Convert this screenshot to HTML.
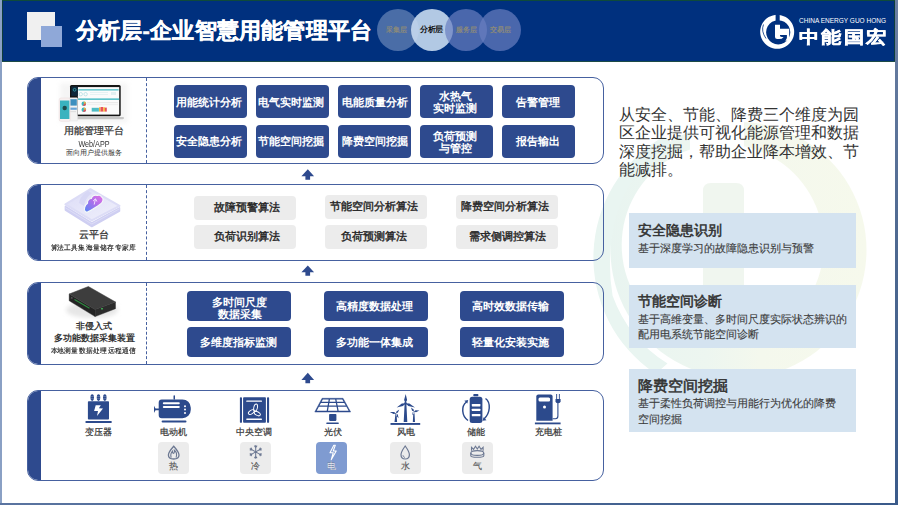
<!DOCTYPE html>
<html><head><meta charset="utf-8">
<style>
*{margin:0;padding:0;box-sizing:border-box}
html,body{width:898px;height:505px;overflow:hidden;background:#fff;font-family:"Liberation Sans",sans-serif}
#pg{position:absolute;left:0;top:0;width:898px;height:505px;background:#fff;overflow:hidden}
.abs{position:absolute}
#lstrip{left:0;top:0;width:2px;height:505px;background:#8aa0c4}
#rstrip{left:895px;top:0;width:3px;height:505px;background:linear-gradient(#6b7fa3,#4d6890 50%,#3a5a8a)}
#bstrip{left:0;top:503px;width:898px;height:2px;background:linear-gradient(90deg,#5a74a0,#3a5a8a)}
#tline{left:0;top:0;width:898px;height:1px;background:#0f4a3a}
#hdr{left:2px;top:1px;width:893px;height:60px;background:#00307e;border-left:1px solid #0d3d3a;border-right:1px solid #0d3d3a}
#hline{left:2px;top:61px;width:893px;height:1px;background:#1c4a46}
.sq1{left:27px;top:12px;width:28px;height:28px;background:#f0f0f0}
.sq2{left:41px;top:26px;width:21px;height:21px;background:#8fa8d8}
#title{left:76px;top:15.7px;font-size:22px;letter-spacing:0.2px;font-weight:bold;color:#fff;-webkit-text-stroke:0.4px #fff;white-space:nowrap;line-height:30px}
.circ{position:absolute;top:9px;width:42px;height:42px;border-radius:50%;color:#8c8a7a;font-size:6.7px;font-weight:bold;text-align:center;line-height:42px}
.c1{background:rgba(200,215,240,0.37)}
.c3,.c4{background:rgba(106,127,193,0.7)}
.circ.on{background:#b2c9e4;color:#111;font-size:8px;letter-spacing:-0.4px}
.cont{position:absolute;left:27px;width:577px;border:1.5px solid #4661a0;border-radius:11px;overflow:hidden}
.cont .bar{position:absolute;left:0;top:0;bottom:0;width:13px;background:#2e4a8e}
.cont .dash{position:absolute;left:117.5px;top:0;bottom:0;border-left:1.5px dashed #4661a0}
.bb{position:absolute;background:#2e4a8e;color:#fff;border-radius:4px;font-weight:bold;text-align:center;display:flex;align-items:center;justify-content:center;line-height:12.5px;font-size:11px;padding:1px 2px 0 0}
.gb{position:absolute;background:#ececec;color:#262626;border-radius:4px;font-weight:normal;-webkit-text-stroke:0.4px #262626;padding-right:3.5px;text-align:center;display:flex;align-items:center;justify-content:center;font-size:10.8px;width:102px;height:24px}
.r1{width:73px;height:33px}
.r3{width:104px;height:30px}
.lbl{position:absolute;color:#333;text-align:center;white-space:nowrap}
.ic{position:absolute;color:#333;font-size:9px;text-align:center;width:40px;line-height:10px;-webkit-text-stroke:0.2px #333}
.tile{position:absolute;top:442px;width:31px;height:31.5px;border-radius:4px;background:#ececec;color:#5a5a5a;font-size:9px;text-align:center;-webkit-text-stroke:0.15px #5a5a5a}
.tile span{position:absolute;left:0;right:0;top:19px;line-height:10px}
.card{position:absolute;left:629px;width:227px;background:#d4e3f0}
.card h4{position:absolute;left:9px;font-size:14px;font-weight:normal;-webkit-text-stroke:0.55px #333;color:#333;white-space:nowrap;line-height:16px}
.card p{position:absolute;left:9px;font-size:11px;color:#3c3c3c;-webkit-text-stroke:0.12px #3c3c3c;line-height:15.5px;white-space:nowrap}
</style></head><body><div id="pg">
<!-- watermark -->
<svg class="abs" style="left:0;top:0" width="898" height="505" viewBox="0 0 898 505">
  <defs>
    <linearGradient id="wm" gradientUnits="userSpaceOnUse" x1="600" y1="0" x2="867" y2="0">
      <stop offset="0" stop-color="#e8f4f0"/><stop offset="0.4" stop-color="#edf6f0"/><stop offset="0.6" stop-color="#f4f8ed"/><stop offset="1" stop-color="#f6f9ec"/>
    </linearGradient>
  </defs>
  <path fill-rule="evenodd" d="M738.5 122 A128 128 0 1 1 738.49 122 Z M722.7 144 A101 101 0 1 0 722.71 144 Z" fill="url(#wm)"/>
  <path d="M690 110 L744 110 L744 152 L690 152 Z" fill="#fff"/>
  <path d="M663.2 136.7 A139.6 139.6 0 0 0 654.9 373.3 Q662 369 667.5 363.6 A134 134 0 0 1 612.6 295.8 Q606 256 615.8 217.1 A127 127 0 0 1 671.2 142.3 Q667 138 663.2 136.7 Z" fill="#e9f5f1"/>
  <path d="M703 303 V191 Q703 183 711 183 H736 Q744 183 744 191 V303 Z" fill="#f0f6ef"/>
</svg>

<div class="abs" id="hdr"></div>
<div class="abs" id="tline"></div>
<div class="abs" id="hline"></div>
<div class="abs sq1"></div><div class="abs sq2"></div>
<div class="abs" id="title">分析层-企业智慧用能管理平台</div>
<div class="circ on" style="left:410.5px">分析层</div>
<div class="circ c1" style="left:377px;padding-right:3px">采集层</div>
<div class="circ c3" style="left:445px">服务层</div>
<div class="circ c4" style="left:479px">交易层</div>
<!-- logo -->
<svg class="abs" style="left:0;top:0" width="898" height="62" viewBox="0 0 898 62">
  <path fill-rule="evenodd" d="M777.2 14.8 A17 17 0 1 1 777.19 14.8 Z M778.2 20.2 A12.1 12.1 0 1 0 778.21 20.2 Z" fill="#fff"/><rect x="775.6" y="13" width="4.1" height="8" fill="#00307e"/><path d="M763.5 24.5 Q760.8 31 766 38.5" fill="none" stroke="#00307e" stroke-width="0.8"/>
  <path d="M775 24.7 H780 V28.8 H789.2 V42.2 L787.4 40.2 L785.2 41.6 L786.9 38 V35 H780 V36 Q780.5 36.9 782 36.9 H783.6 Q782.2 39.1 779 39.1 H777.2 Q775 39.1 775 37 Z" fill="#fff"/>
  <text x="799" y="23.3" font-size="7.3" fill="#fff" font-family="Liberation Sans, sans-serif" textLength="87" lengthAdjust="spacingAndGlyphs">CHINA ENERGY GUO HONG</text>
</svg>
<div class="abs" style="left:798.5px;top:25.5px;font-size:20px;font-weight:bold;color:#fff;letter-spacing:2.6px;line-height:22px;white-space:nowrap;-webkit-text-stroke:0.5px #fff;transform:scaleY(0.84);transform-origin:50% 50%">中能国宏</div>

<!-- container 1 -->
<div class="cont" style="top:76.5px;height:87px"><div class="bar"></div><div class="dash"></div></div>
<div class="bb r1" style="left:173.5px;top:85px">用能统计分析</div>
<div class="bb r1" style="left:255.5px;top:85px">电气实时监测</div>
<div class="bb r1" style="left:337.5px;top:85px;padding:1px 0 0 1px">电能质量分析</div>
<div class="bb r1" style="left:419.5px;top:85px">水热气<br>实时监测</div>
<div class="bb r1" style="left:501.5px;top:85px;padding:1px 0 0 0">告警管理</div>
<div class="bb r1" style="left:173.5px;top:125px;padding:0 2px 0 0">安全隐患分析</div>
<div class="bb r1" style="left:255.5px;top:125px;padding:0 2px 0 0">节能空间挖掘</div>
<div class="bb r1" style="left:337.5px;top:125px;padding:0 0 0 1px">降费空间挖掘</div>
<div class="bb r1" style="left:419.5px;top:125px">负荷预测<br>与管控</div>
<div class="bb r1" style="left:501.5px;top:125px;padding:0 0 0 0">报告输出</div>
<div class="lbl" style="left:42px;width:104px;top:124px;font-size:9.8px;font-weight:normal;-webkit-text-stroke:0.25px #333;line-height:13px">用能管理平台</div>
<div class="lbl" style="left:42px;width:104px;top:140.3px;font-size:9px;line-height:9px;letter-spacing:0;transform:scaleX(0.8)">Web/APP</div>
<div class="lbl" style="left:42px;width:104px;top:147.5px;font-size:7px;line-height:9px">面向用户提供服务</div>

<!-- container 2 -->
<div class="cont" style="top:183.5px;height:77px"><div class="bar"></div><div class="dash"></div></div>
<div class="gb" style="left:194px;top:195.5px;padding:0 0 0 3px">故障预警算法</div>
<div class="gb" style="left:325px;top:195px">节能空间分析算法</div>
<div class="gb" style="left:455.5px;top:195px">降费空间分析算法</div>
<div class="gb" style="left:194px;top:225px;padding:0 0 0 3px">负荷识别算法</div>
<div class="gb" style="left:325px;top:224.5px">负荷预测算法</div>
<div class="gb" style="left:455.5px;top:224.5px;padding:0 0 0 1px">需求侧调控算法</div>
<div class="lbl" style="left:42px;width:104px;top:227.5px;font-size:10px;font-weight:normal;-webkit-text-stroke:0.3px #333;line-height:13px">云平台</div>
<div class="lbl" style="left:40.7px;width:104px;top:242.5px;font-size:7px;line-height:9px;color:#222;-webkit-text-stroke:0.15px #222;transform:scaleX(0.965)">算法工具集 海量储存 专家库</div>

<!-- container 3 -->
<div class="cont" style="top:281.8px;height:83.5px"><div class="bar"></div><div class="dash"></div></div>
<div class="bb r3" style="left:187px;top:291px;padding:6px 0 0 1px;line-height:11.6px;font-size:10.6px;align-items:flex-start">多时间尺度<br>数据采集</div>
<div class="bb r3" style="left:323.5px;top:291px">高精度数据处理</div>
<div class="bb r3" style="left:459.5px;top:291px">高时效数据传输</div>
<div class="bb r3" style="left:187px;top:327px">多维度指标监测</div>
<div class="bb r3" style="left:323.5px;top:327px">多功能一体集成</div>
<div class="bb r3" style="left:459.5px;top:327px">轻量化安装实施</div>
<div class="lbl" style="left:42px;width:104px;top:320.3px;font-size:9px;font-weight:bold;line-height:12px">非侵入式</div>
<div class="lbl" style="left:42px;width:104px;top:331.5px;font-size:8.75px;font-weight:bold;line-height:12px">多功能数据采集装置</div>
<div class="lbl" style="left:40.7px;width:104px;top:345.5px;font-size:7px;line-height:9px;color:#222;-webkit-text-stroke:0.15px #222;transform:scaleX(0.965)">本地测量 数据处理 远程通信</div>

<!-- container 4 -->
<div class="cont" style="top:389.5px;height:91.5px"><div class="bar"></div></div>
<div class="ic" style="left:78.5px;top:426.5px">变压器</div>
<div class="ic" style="left:153px;top:426.5px">电动机</div>
<div class="ic" style="left:234px;top:426.5px">中央空调</div>
<div class="ic" style="left:313px;top:426.5px">光伏</div>
<div class="ic" style="left:385.5px;top:426.5px">风电</div>
<div class="ic" style="left:455.5px;top:426.5px">储能</div>
<div class="ic" style="left:528px;top:426.5px">充电桩</div>
<div class="tile" style="left:157.5px"><span>热</span></div>
<div class="tile" style="left:240px"><span>冷</span></div>
<div class="tile" style="left:316px;background:#7f9bd1;color:#fff"><span>电</span></div>
<div class="tile" style="left:389.5px"><span>水</span></div>
<div class="tile" style="left:462px"><span>气</span></div>

<!-- icons overlay -->
<svg class="abs" style="left:0;top:0" width="898" height="505" viewBox="0 0 898 505">
  <defs>
    <linearGradient id="cl" x1="1" y1="0" x2="0" y2="1">
      <stop offset="0" stop-color="#e272e6"/><stop offset="0.45" stop-color="#b070ea"/><stop offset="1" stop-color="#5386f4"/>
    </linearGradient>
    <linearGradient id="slab" x1="0" y1="0" x2="1" y2="1">
      <stop offset="0" stop-color="#dcdcf7"/><stop offset="1" stop-color="#f0f0fb"/>
    </linearGradient>
    <filter id="blur1" x="-50%" y="-50%" width="200%" height="200%"><feGaussianBlur stdDeviation="2"/></filter>
  </defs>
  <!-- arrows -->
  <path d="M307.8 169.2 L314.1 176.3 L310.1 176.3 L310.1 179.8 L305.4 179.8 L305.4 176.3 L301.4 176.3 Z" fill="#2e4a8e"/>
  <path d="M307.8 265.4 L314.1 272.3 L310.1 272.3 L310.1 275.8 L305.4 275.8 L305.4 272.3 L301.4 272.3 Z" fill="#2e4a8e"/>
  <path d="M307.8 372.8 L314.1 380.1 L310.1 380.1 L310.1 383.2 L305.4 383.2 L305.4 380.1 L301.4 380.1 Z" fill="#2e4a8e"/>

  <!-- laptop -->
  <rect x="60" y="83" width="68" height="40" fill="#eeeeee" filter="url(#blur1)" opacity="0.55"/>
  <rect x="70" y="85" width="50.7" height="31.3" rx="1.5" fill="#151515"/>
  <rect x="77.8" y="87.1" width="41.4" height="27.5" fill="#fbfbfb"/>
  <rect x="71.4" y="86.4" width="6.4" height="9.5" fill="#10283a"/>
  <circle cx="74.6" cy="89.8" r="1.4" fill="none" stroke="#3ab5c0" stroke-width="0.7"/>
  <rect x="78.4" y="89.2" width="40.2" height="1.3" fill="#4dbdc6"/>
  <circle cx="80.8" cy="94.2" r="1.7" fill="none" stroke="#9ed6dc" stroke-width="0.6"/>
  <circle cx="85.6" cy="94.2" r="1.7" fill="none" stroke="#9ed6dc" stroke-width="0.6"/>
  <rect x="90" y="92.5" width="18" height="0.5" fill="#cfe8ea"/><rect x="90" y="94.5" width="18" height="0.5" fill="#cfe8ea"/>
  <rect x="111" y="92" width="5" height="3" fill="#e2eff0"/>
  <rect x="78" y="98.4" width="41.2" height="1.5" fill="#4dbdc6"/>
  <rect x="87" y="102.5" width="31" height="0.6" fill="#dadada"/><rect x="87" y="104.5" width="31" height="0.6" fill="#e6e6e6"/>
  <circle cx="83.8" cy="103.7" r="2.3" fill="#3ab5c0"/><path d="M83.8 103.7 L83.8 101.4 A2.3 2.3 0 0 1 86.1 103.7 Z" fill="#f3b33d"/><path d="M83.8 103.7 L86.1 103.7 A2.3 2.3 0 0 1 83.2 105.9 Z" fill="#e8505b"/>
  <circle cx="83.8" cy="109.7" r="2.3" fill="#3ab5c0"/><path d="M83.8 109.7 L83.8 107.4 A2.3 2.3 0 0 1 86.1 109.7 Z" fill="#f3b33d"/><path d="M83.8 109.7 L86.1 109.7 A2.3 2.3 0 0 1 83.2 111.9 Z" fill="#e8505b"/>
  <rect x="91.7" y="107.8" width="7.2" height="3.8" fill="#4fbcc4"/>
  <rect x="99" y="107.3" width="1.6" height="4.3" fill="#f3b33d"/>
  <rect x="100.6" y="107" width="2.6" height="4.6" fill="#e8505b"/>
  <rect x="103.2" y="107.3" width="1.8" height="4.3" fill="#f3b33d"/>
  <rect x="105" y="107.6" width="1.8" height="4" fill="#e8505b"/>
  <rect x="76.3" y="116.9" width="47.7" height="2.3" rx="1.1" fill="#c6c6c6"/>
  <rect x="68.6" y="97.7" width="9" height="23.2" rx="1" fill="#f3f3f3" stroke="#dddddd" stroke-width="0.4"/>
  <rect x="69.4" y="99.2" width="7.4" height="6.4" fill="#3e8fbf"/>
  <rect x="69.4" y="107.6" width="7.4" height="2.2" fill="#6aa5d8"/>
  <rect x="70" y="111.5" width="6" height="0.6" fill="#cccccc"/>
  <rect x="59.2" y="98" width="11" height="23.3" rx="1.8" fill="#f7f1f1" stroke="#ead9d9" stroke-width="0.5"/>
  <rect x="60" y="100.5" width="9.4" height="18.5" fill="#39b3bf"/>
  <circle cx="64.7" cy="108" r="2.2" fill="#1f4c4c"/>

  <!-- cloud platform -->
  <path d="M65.4 206.5 L91.8 222.8 L119.5 207.8 L119.5 211 L91.8 226.6 L65.4 210 Z" fill="#cfcff2" stroke="#cfcff2" stroke-width="1.5" stroke-linejoin="round"/>
  <path d="M65.4 207.8 L91.8 224 L119.5 208.8" fill="none" stroke="#e2e2f8" stroke-width="0.7"/>
  <path d="M90.4 189.2 L119.5 205.8 L91.8 220.4 L65.4 204.4 Z" fill="url(#slab)" stroke="#dcdcf6" stroke-width="2" stroke-linejoin="round"/>
  <path d="M79 203 Q80 196 88 191 L92 193 Q85 198 84 206 Z" fill="#d3d3f3" opacity="0.7"/>
  <path d="M85.2 211.2 C83.5 209.5 84.8 205 87.5 203.2 C87.3 200.5 89 198.5 91.3 198.5 C92.2 195.8 95 194.5 97.3 195.5 C98.5 194.8 100.8 195.2 101.5 197 C103.3 197.5 103.6 200.5 102 202.5 C100 205 90 211 87.5 212 C86.5 212.3 85.6 211.8 85.2 211.2 Z" fill="url(#cl)" stroke="#f4fbf8" stroke-width="1.1"/>
  <path d="M94.2 204.5 L95.4 199.2 M93.1 201 L95.5 198.8 L96.9 201.5" stroke="#f6ecff" stroke-width="0.9" fill="none"/>

  <!-- device -->
  <ellipse cx="92" cy="310" rx="26" ry="8" fill="#e6e6e6" filter="url(#blur1)"/>
  <path d="M69.2 294 L95.1 309.5 L95.1 316.6 L69.2 300.8 Z" fill="#232323" stroke="#232323" stroke-width="0.4"/>
  <path d="M95.1 309.5 L115.5 302 L115.5 308.7 L95.1 316.6 Z" fill="#2c2c2c" stroke="#2c2c2c" stroke-width="0.4"/>
  <path d="M88.4 286.5 L115.5 302 L95.1 309.5 L69.2 294 Z" fill="#3d3d3d" stroke="#3a3a3a" stroke-width="0.5" stroke-linejoin="round"/>
  <path d="M74.5 299.5 L89.5 308.3" stroke="#2f8a40" stroke-width="1.1"/><path d="M71 297.5 L72.5 298.4" stroke="#555" stroke-width="1.5"/>
  <rect x="101" y="308" width="2" height="1.5" fill="#3fa050"/>

  <!-- transformer -->
  <g fill="#2c4a8c">
    <ellipse cx="92.2" cy="397.6" rx="1.75" ry="3.3"/>
    <ellipse cx="98.5" cy="397.6" rx="1.75" ry="3.3"/>
    <ellipse cx="104.8" cy="397.6" rx="1.75" ry="3.3"/>
    <rect x="87.9" y="401.2" width="21.1" height="18.4" rx="0.8"/>
    <rect x="85.3" y="420.9" width="26.6" height="2.2" rx="1"/>
  </g>
  <g stroke="#fff" stroke-width="0.35" opacity="0.6">
    <path d="M90.6 396.5 H93.8 M90.6 398.6 H93.8 M96.9 396.5 H100.1 M96.9 398.6 H100.1 M103.2 396.5 H106.4 M103.2 398.6 H106.4"/>
  </g>
  <path d="M95.7 405.3 L100.8 405.3 L98.9 408.2 L103 408.5 L97 416.1 L98 411 L94.1 411 Z" fill="#fff"/>

  <!-- motor -->
  <g fill="#2c4a8c">
    <path d="M161.7 399.4 H182.4 A8.4 8.4 0 0 1 190.8 407.8 V409.8 A8.4 8.4 0 0 1 182.4 418.2 H161.7 A3 3 0 0 1 158.7 415.2 V402.4 A3 3 0 0 1 161.7 399.4 Z"/>
    <rect x="173.5" y="395.3" width="1.5" height="4.5" rx="0.7"/>
    <path d="M154 405.8 Q155.3 408.5 155.6 408.6 H159 V410.2 H155.6 Q155.3 410.3 154 413 Z"/>
    <rect x="161.6" y="420.4" width="24.9" height="2.2" rx="1"/>
  </g>
  <rect x="162.8" y="402.2" width="17" height="2.1" rx="1.05" fill="#fff"/>
  <rect x="162.8" y="406" width="17" height="2.1" rx="1.05" fill="#fff"/>
  <circle cx="185" cy="406.2" r="1" fill="#fff"/><circle cx="185" cy="409.6" r="1" fill="#fff"/><circle cx="185" cy="413" r="1" fill="#fff"/>

  <!-- central AC -->
  <g fill="#2c4a8c">
    <rect x="239.9" y="397.2" width="2.1" height="25.6" rx="0.9"/>
    <rect x="267" y="397.2" width="2.1" height="25.6" rx="0.9"/>
    <rect x="243.1" y="397.2" width="22.8" height="25.6" rx="0.8"/>
  </g>
  <rect x="246.2" y="400.5" width="15.8" height="1.3" rx="0.6" fill="#fff"/>
  <rect x="246.2" y="418.6" width="15.8" height="1.3" rx="0.6" fill="#fff"/>
  <g fill="none" stroke="#fff" stroke-width="0.95">
    <ellipse cx="0" cy="0" rx="1.8" ry="3.7" transform="translate(255.6 407.6) rotate(12)"/>
    <ellipse cx="0" cy="0" rx="1.8" ry="3.3" transform="translate(251.3 412.1) rotate(58)"/>
    <ellipse cx="0" cy="0" rx="1.8" ry="3.3" transform="translate(257.3 413.6) rotate(-62)"/>
  </g>

  <!-- solar -->
  <path d="M322.1 398.3 L343 398.3 L350.6 412 L314.8 412 Z" fill="#2c4a8c" stroke="#2c4a8c" stroke-width="0.5" stroke-linejoin="round"/>
  <path d="M322.81 399.4 L328.66 399.4 L328.27 401.7 L321.59 401.7 Z M329.96 399.4 L335.16 399.4 L335.60 401.7 L329.57 401.7 Z M336.46 399.4 L342.31 399.4 L343.59 401.7 L336.90 401.7 Z M320.95 402.9 L328.07 402.9 L327.61 405.6 L319.51 405.6 Z M329.37 402.9 L335.83 402.9 L336.35 405.6 L328.91 405.6 Z M337.13 402.9 L344.25 402.9 L345.75 405.6 L337.65 405.6 Z M318.87 406.8 L327.40 406.8 L326.72 410.8 L316.74 410.8 Z M328.70 406.8 L336.58 406.8 L337.35 410.8 L328.02 410.8 Z M337.88 406.8 L346.42 406.8 L348.63 410.8 L338.65 410.8 Z" fill="#fff"/>
  <rect x="329.1" y="414" width="7.3" height="6.9" rx="0.8" fill="#2c4a8c"/>
  <rect x="326.2" y="422.4" width="12.7" height="1.7" rx="0.8" fill="#2c4a8c"/>

  <!-- wind -->
  <g fill="#2c4a8c">
    <path d="M405.5 403.2 L407.1 400.0 L405.7 394.0 L404.1 399.9 Z M405.5 403.2 L401.8 403.6 L396.7 407.6 L403.0 405.9 Z M405.5 403.2 L408.3 405.9 L415.0 407.6 L409.4 403.6 Z M403.7 421.9 L404.6 404 L406.4 404 L407.3 421.9 Z M396.0 413.4 L394.1 411.9 L389.8 412.0 L393.6 413.9 Z M396.0 413.4 L397.9 412.6 L399.3 409.4 L396.4 411.4 Z M396.0 413.4 L396.0 415.6 L398.6 418.2 L397.8 414.6 Z M394.5 421.9 L395.5 413.4 L396.5 413.4 L397.1 421.9 Z M413.9 411.6 L416.0 412.2 L419.4 410.5 L415.6 410.2 Z M413.9 411.6 L413.7 409.6 L411.0 407.6 L412.1 410.8 Z M413.9 411.6 L412.5 412.5 L412.5 415.3 L414.3 413.2 Z M412.8 421.9 L413.4 411.6 L414.4 411.6 L415 421.9 Z"/>
    <circle cx="405.5" cy="403.4" r="1.3"/>
    <rect x="390.5" y="423" width="29.7" height="1.9"/>
  </g>

  <!-- battery -->
  <g fill="#2c4a8c">
    <rect x="469.7" y="396.7" width="12.7" height="26.3" rx="2.5"/>
    <rect x="473.3" y="394" width="5.1" height="2.2" rx="0.8"/>
  </g>
  <rect x="471.8" y="404" width="8.6" height="2.4" rx="0.6" fill="#fff"/>
  <rect x="471.8" y="408.7" width="8.6" height="2.3" rx="0.6" fill="#fff"/>
  <rect x="471.8" y="414" width="8.6" height="2.3" rx="0.6" fill="#fff"/>
  <path d="M466.5 402 C461 406 461.5 416 468 420.5" fill="none" stroke="#2c4a8c" stroke-width="1.45"/>
  <path d="M464.3 400.8 L468.2 400 L467.3 403.6 Z" fill="#2c4a8c"/>
  <path d="M485.5 398.5 C491 402.5 490.5 413 484 419" fill="none" stroke="#2c4a8c" stroke-width="1.45"/>
  <path d="M486.5 420.2 L482.5 420.8 L483.6 417.2 Z" fill="#2c4a8c"/>

  <!-- charger -->
  <path d="M536.3 396.4 Q536.3 394.4 538.3 394.4 L550.6 394.4 Q552.6 394.4 552.6 396.4 L552.6 420.7 L536.3 420.7 Z" fill="#2c4a8c"/>
  <rect x="538.5" y="397.4" width="11.6" height="4" rx="1.5" fill="#fff"/>
  <circle cx="544.5" cy="407" r="1.5" fill="#fff"/>
  <rect x="534.9" y="422.5" width="25.7" height="1.8" fill="#2c4a8c"/>
  <path d="M552.6 418.7 L555.5 418.7 Q557.9 418.7 557.9 416 L557.9 403" fill="none" stroke="#2c4a8c" stroke-width="1.1"/>
  <path d="M555.5 399 L560.6 399 L560.6 401.5 Q560.6 403.3 558 403.3 Q555.5 403.3 555.5 401.5 Z" fill="#2c4a8c"/>
  <rect x="556.2" y="394" width="0.9" height="5" fill="#2c4a8c"/>
  <rect x="558.9" y="394" width="0.9" height="5" fill="#2c4a8c"/>

  <!-- tile icons -->
  <path d="M173.7 446.2 C170.3 450 168.4 452.6 168.4 455 C168.4 457.6 170.7 459 173.7 459 C176.7 459 179 457.6 179 455 C179 452.6 177.1 450 173.7 446.2 Z" fill="none" stroke="#6c7892" stroke-width="1.3"/>
  <path d="M171.2 457.6 C170.4 455.2 171 452.8 172.5 451.2 C172.5 453.2 173.3 453.9 174 452.9 C174.6 452 174.5 450.9 174.4 450.3 C176.3 451.8 177 454.8 176.1 457.6" fill="none" stroke="#6c7892" stroke-width="1.1"/>
  <g stroke="#6c7892" stroke-width="1.05" fill="none" stroke-linecap="round">
    <path d="M255.70 451.90 L255.70 445.50 M255.70 447.60 L254.61 446.04 M255.70 447.60 L256.79 446.04 M255.70 451.90 L250.16 448.70 M251.98 449.75 L250.08 449.92 M251.98 449.75 L251.17 448.03 M255.70 451.90 L250.16 455.10 M251.98 454.05 L251.17 455.77 M251.98 454.05 L250.08 453.88 M255.70 451.90 L255.70 458.30 M255.70 456.20 L256.79 457.76 M255.70 456.20 L254.61 457.76 M255.70 451.90 L261.24 455.10 M259.42 454.05 L261.32 453.88 M259.42 454.05 L260.23 455.77 M255.70 451.90 L261.24 448.70 M259.42 449.75 L260.23 448.03 M259.42 449.75 L261.32 449.92"/>
  </g>
  <path d="M333.8 445.2 L330 452.8 L333.2 452.8 L331.2 459.8 L336.2 451 L333.2 451 L335.3 445.2 Z" fill="none" stroke="#fff" stroke-width="1.1" stroke-linejoin="round"/>
  <path d="M405.2 446 C402.3 450 401 452.5 401 454.8 C401 457.4 402.9 459 405.2 459 C407.5 459 409.4 457.4 409.4 454.8 C409.4 452.5 408.1 450 405.2 446 Z" fill="none" stroke="#6c7892" stroke-width="1.2"/>
  <path d="M403 455.2 C403 456.5 403.8 457.2 405 457.4" fill="none" stroke="#6c7892" stroke-width="0.9"/>
  <g stroke="#6c7892" stroke-width="1.1" fill="none">
    <ellipse cx="477.3" cy="453" rx="6.5" ry="2.4"/>
    <path d="M470.8 453 V455.8 C470.8 457.8 483.8 457.8 483.8 455.8 V453"/>
    <path d="M471.5 450.8 L471.5 447.3 L473.6 449.3 L475.5 446.3 L477.3 449 L479.1 446.3 L481 449.3 L483.1 447.3 L483.1 450.8"/>
  </g>
</svg>

<!-- right panel -->
<div class="abs" style="left:619px;top:105.5px;width:250px;font-size:15.9px;line-height:18.6px;color:#333">从安全、节能、降费三个维度为园区企业提供可视化能源管理和数据深度挖掘，帮助企业降本增效、节能减排。</div>
<div class="card" style="top:212.5px;height:55px"><h4 style="top:9px">安全隐患识别</h4><p style="top:28.5px">基于深度学习的故障隐患识别与预警</p></div>
<div class="card" style="top:285px;height:63px"><h4 style="top:7.5px">节能空间诊断</h4><p style="top:26.5px">基于高维变量、多时间尺度实际状态辨识的<br>配用电系统节能空间诊断</p></div>
<div class="card" style="top:368.5px;height:63.5px"><h4 style="top:9.5px;font-size:15px">降费空间挖掘</h4><p style="top:27.5px">基于柔性负荷调控与用能行为优化的降费<br>空间挖掘</p></div>

<div class="abs" id="lstrip"></div>
<div class="abs" id="rstrip"></div>
<div class="abs" id="bstrip"></div>
</div></body></html>
